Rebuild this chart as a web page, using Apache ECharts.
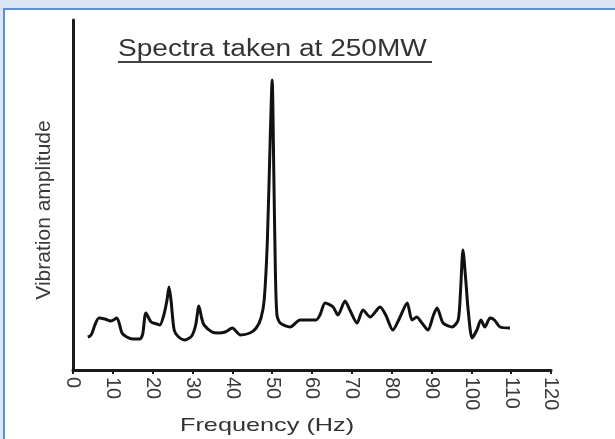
<!DOCTYPE html>
<html>
<head>
<meta charset="utf-8">
<script src="https://cdn.jsdelivr.net/npm/echarts@6/dist/echarts.min.js"></script>
<style>
  html, body { margin: 0; padding: 0; width: 615px; height: 439px; overflow: hidden; background: #dce4f3; }
  #frame { position: absolute; left: 3px; top: 8px; right: 0; bottom: 0; background: #fff;
           border-top: 2px solid #5b8fd1; border-left: 2px solid #5b8fd1; }
  #chart { position: absolute; left: 0; top: 0; width: 615px; height: 439px; }
</style>
</head>
<body>
<div id="frame"></div>
<div id="chart"></div>
<script>
// frequency (Hz) and amplitude (arbitrary units)
var freq = [3.7, 4.3, 4.8, 5.5, 6.5, 8, 9.5, 11, 12.3, 13.5, 15, 16.8, 17.5, 18.3, 19.6, 21, 21.8,
  22.8, 23.6, 24.1, 24.6, 25.4, 26.5, 28.1, 29.8, 30.8, 31.6, 32.3, 32.9, 34.9, 36.5, 38.2, 40,
  42, 44.4, 46, 47.2, 48, 48.8, 49.5, 50, 50.4, 50.8, 51.2, 52, 54.5, 57, 61, 62, 63.3, 65.3,
  66.5, 68.3, 69.5, 71.3, 72.8, 74.6, 77.1, 78.5, 80.3, 82, 83.9, 85.1, 86.3, 87.6, 89.1, 90.5,
  91.4, 92.9, 95.2, 96.7, 97.3, 97.9, 98.6, 99.2, 100.2, 101.4, 102.4, 103.4, 104.7, 105.8, 107.2, 109.7];
var amp = [33, 34, 37, 45, 52, 51, 49, 52, 37, 33, 31, 31, 36, 57, 48, 46, 45,
  55, 70, 83, 70, 40, 33, 30, 34, 45, 64, 52, 45, 38, 37, 38, 42,
  35, 37, 42, 52, 70, 130, 230, 290, 200, 100, 55, 47, 43, 50, 50, 55, 67, 63,
  55, 69, 60, 47, 60, 53, 63, 55, 40, 52, 67, 50, 53, 47, 40, 55,
  62, 47, 43, 50, 80, 120, 90, 60, 32, 40, 50, 43, 52, 50, 43, 42];
var xTicks = [0, 120, 10]; // min, max, step

var fontFam = '"Liberation Sans", Arial, sans-serif';
var chart = echarts.init(document.getElementById('chart'));

var option = {
  backgroundColor: 'transparent',
  animation: false,
  grid: { left: 73, right: 64, top: 20, bottom: 69, containLabel: false },
  xAxis: {
    type: 'value',
    min: xTicks[0],
    max: xTicks[1],
    interval: xTicks[2],
    axisLine: { show: true, lineStyle: { color: '#1a1a1a', width: 3 } },
    axisTick: { show: true, length: 4, lineStyle: { color: '#1a1a1a', width: 2 } },
    axisLabel: { rotate: -90, fontSize: 20, color: '#3a3a3a', fontFamily: fontFam, margin: 7 },
    splitLine: { show: false }
  },
  yAxis: {
    type: 'value',
    min: 0,
    max: 350,
    axisLine: { show: true, lineStyle: { color: '#1a1a1a', width: 3 } },
    axisTick: { show: false },
    axisLabel: { show: false },
    splitLine: { show: false }
  },
  series: [{
    type: 'line',
    data: freq.map(function (f, i) { return [f, amp[i]]; }),
    showSymbol: false,
    smooth: 0.25,
    lineStyle: { color: '#111', width: 3, join: 'round' }
  }],
  graphic: [
    {
      type: 'text', left: 118, top: 38, scaleX: 1.22,
      style: { text: 'Spectra taken at 250MW', font: '23px ' + fontFam, fill: '#333' }
    },
    {
      type: 'rect', shape: { x: 118, y: 61, width: 314, height: 2 },
      style: { fill: '#444' }
    },
    {
      type: 'text', left: 180, top: 416, scaleX: 1.33,
      style: { text: 'Frequency (Hz)', font: '19px ' + fontFam, fill: '#333' }
    },
    {
      type: 'text', x: 44, y: 210, rotation: Math.PI / 2,
      style: { text: 'Vibration amplitude', font: '21px ' + fontFam, fill: '#3a3a3a',
               align: 'center', verticalAlign: 'middle' }
    }
  ]
};
chart.setOption(option);
</script>
</body>
</html>
